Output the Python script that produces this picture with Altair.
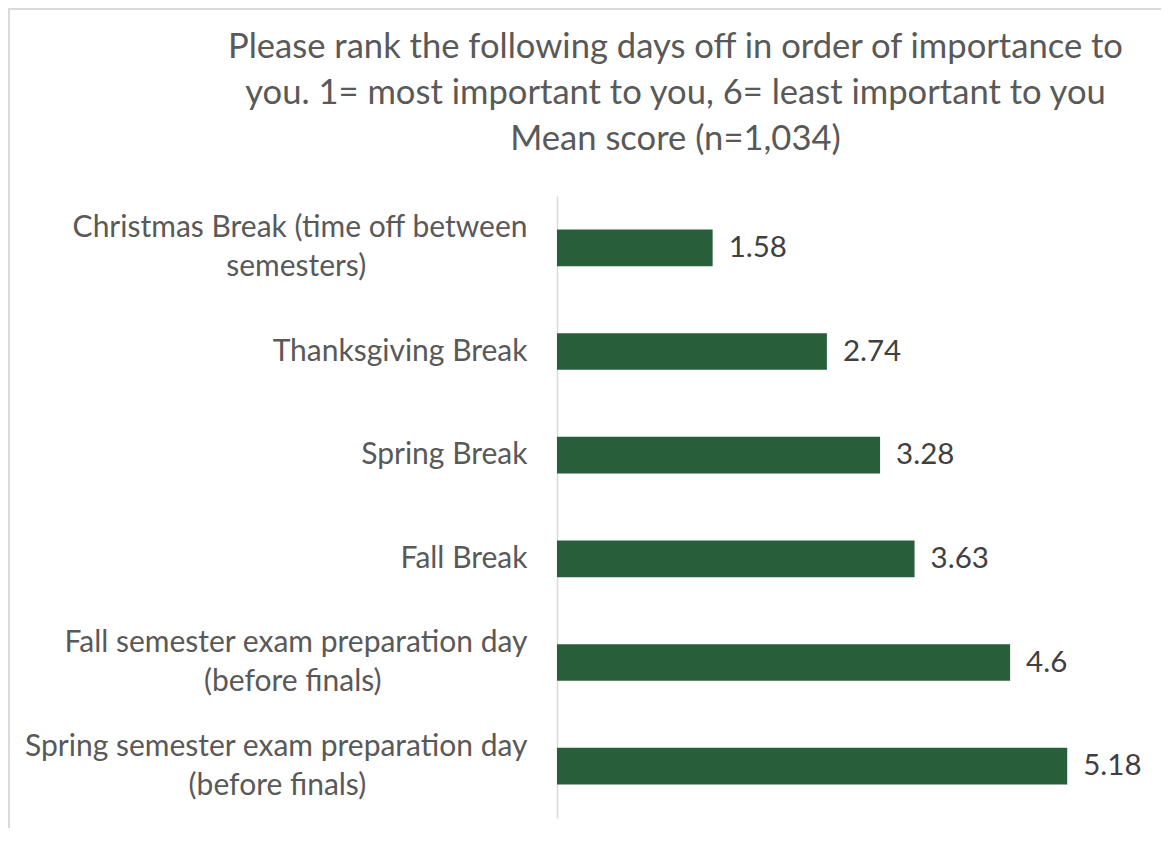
import altair as alt
import pandas as pd

NB = "\u00a0"
WJ = "\u2060"
categories = [
    "Christmas Break (time off between|semesters)" + NB * 21 + WJ,
    "Thanksgiving Break",
    "Spring Break",
    "Fall Break",
    "Fall semester exam preparation day|(before finals)" + NB * 19 + WJ,
    "Spring semester exam preparation day|(before finals)" + NB * 21 + WJ,
]
values = [1.58, 2.74, 3.28, 3.63, 4.6, 5.18]
title_lines = [
    "Please rank the following days off in order of importance to",
    "you. 1= most important to you, 6= least important to you",
    "Mean score (n=1,034)",
]

df = pd.DataFrame({"cat": categories, "val": values, "lab": [str(v) for v in values]})

FONT = "Lato"
W, H = 591, 622
PL, PT = 549, 188

y_enc = alt.Y(
    "cat:N",
    sort=categories,
    scale=alt.Scale(paddingInner=0.646, paddingOuter=0.323),
    axis=alt.Axis(
        title=None,
        labelExpr="split(datum.label, '|')",
        labelFont=FONT,
        labelFontSize=30,
        labelColor="#595959",
        labelLineHeight=39,
        labelPadding=30,
        labelLimit=600,
        labelOffset={
            "condition": {"test": "indexof(datum.value, '|') >= 0", "value": -19.5},
            "value": 0,
        },
        ticks=False,
        domainColor="#d9d9d9",
        domainWidth=1.5,
        grid=False,
    ),
)
x_enc = alt.X("val:Q", scale=alt.Scale(domain=[0, 6]), axis=None)

bars = alt.Chart(df).mark_bar(color="#285E3A").encode(x=x_enc, y=y_enc)
texts = alt.Chart(df).mark_text(
    align="left", baseline="middle", dx=16, font=FONT, fontSize=29.5, color="#404040"
).encode(x=x_enc, y=alt.Y("cat:N", sort=categories), text="lab:N")

border_top = alt.Chart(df).mark_rule(color="#d9d9d9", strokeWidth=1.5).encode(
    x=alt.value(-PL), x2=alt.value(W + 20), y=alt.value(-PT + 0.75)
)
border_left = alt.Chart(df).mark_rule(color="#d9d9d9", strokeWidth=1.5).encode(
    x=alt.value(-PL + 0.75), y=alt.value(-PT), y2=alt.value(H + 20)
)

chart = (
    alt.layer(border_top, border_left, bars, texts)
    .properties(
        width=W,
        height=H,
        autosize=alt.AutoSizeParams(type="none"),
        padding={"left": PL, "top": PT, "right": 13, "bottom": 10},
        title=alt.TitleParams(
            text=title_lines,
            font=FONT,
            fontSize=34.6,
            fontWeight="normal",
            color="#595959",
            anchor="middle",
            frame="group",
            dx=-177,
            offset=-150,
            lineHeight=46,
        ),
    )
    .configure(background="white")
    .configure_view(strokeWidth=0, stroke="transparent")
)

chart.save("out.html", embed_options={"renderer": "svg", "actions": False})
